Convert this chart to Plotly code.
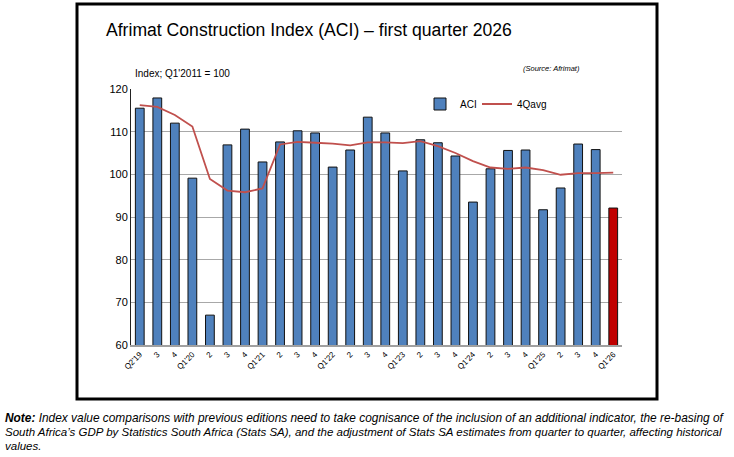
import plotly.graph_objects as go

categories = ["Q2'19", "3", "4", "Q1'20", "2", "3", "4", "Q1'21", "2", "3", "4",
              "Q1'22", "2", "3", "4", "Q1'23", "2", "3", "4", "Q1'24", "2", "3", "4",
              "Q1'25", "2", "3", "4", "Q1'26"]
aci = [115.5, 117.9, 112.0, 99.1, 67.0, 106.9, 110.6, 102.9, 107.6, 110.2, 109.7,
       101.7, 105.7, 113.4, 109.7, 100.8, 108.1, 107.4, 104.3, 93.5, 101.3, 105.6,
       105.7, 91.7, 96.8, 107.1, 105.8, 92.1]
avg4q = [116.2, 115.8, 113.9, 111.2, 98.9, 96.2, 95.8, 96.7, 107.0, 107.6, 107.4,
         107.2, 106.8, 107.5, 107.5, 107.3, 107.8, 106.6, 105.0, 103.1, 101.6, 101.3,
         101.6, 101.0, 99.9, 100.3, 100.3, 100.4]
yticks = [60, 70, 80, 90, 100, 110, 120]

x = list(range(len(categories)))
bar_colors = ["#4F81BD"] * (len(categories) - 1) + ["#C00000"]

fig = go.Figure()
fig.add_trace(go.Bar(x=x, y=aci, name="ACI", marker=dict(color=bar_colors, line=dict(color="#111111", width=1)),
                     showlegend=True, legend="legend"))
fig.add_trace(go.Scatter(x=x, y=avg4q, name="4Qavg", mode="lines",
                         line=dict(color="#C0504D", width=1.8), legend="legend2"))

W, H = 734, 457
L, R, T, B = 131, 622, 89, 345
pw, ph = R - L, B - T

def px(v):
    return (v - L) / pw

def py(v):
    return (B - v) / ph

note_family = "Liberation Sans, Arial, sans-serif"

fig.update_layout(
    width=W, height=H,
    margin=dict(l=L, r=W - R, t=T, b=H - B),
    paper_bgcolor="white", plot_bgcolor="white",
    font=dict(family="Liberation Sans, Arial, sans-serif", color="#000000"),
    bargap=0.5,
    showlegend=True,
    legend=dict(orientation="h", x=px(420), y=py(104), xanchor="left", yanchor="middle",
                bgcolor="rgba(0,0,0,0)", font=dict(size=10), itemwidth=30),
    legend2=dict(orientation="h", x=px(477), y=py(104), xanchor="left", yanchor="middle",
                 bgcolor="rgba(0,0,0,0)", font=dict(size=10), itemwidth=30),
    xaxis=dict(tickmode="array", tickvals=x, ticktext=categories, tickangle=-45,
               range=[-0.5, len(categories) - 0.5], showgrid=False,
               showline=True, linecolor="#A0A0A0", linewidth=1.5,
               tickfont=dict(size=8), ticks=""),
    yaxis=dict(range=[60, 120], tickvals=yticks, showgrid=True, gridcolor="#A8A8A8", gridwidth=1,
               showline=True, linecolor="#222222", linewidth=1, ticks="",
               tickfont=dict(size=11), zeroline=False),
    shapes=[dict(type="rect", xref="paper", yref="paper",
                 x0=px(77), x1=px(657), y0=py(399), y1=py(4),
                 line=dict(color="black", width=3), fillcolor="rgba(0,0,0,0)")],
    annotations=[
        dict(text="Afrimat Construction Index (ACI) \u2013 first quarter 2026", xref="paper", yref="paper",
             x=px(104), y=py(30), xanchor="left", yanchor="middle", showarrow=False,
             font=dict(size=17.6)),
        dict(text="Index; Q1'2011 = 100", xref="paper", yref="paper",
             x=px(133), y=py(73), xanchor="left", yanchor="middle", showarrow=False,
             font=dict(size=10)),
        dict(text="<i>(Source: Afrimat)</i>", xref="paper", yref="paper",
             x=px(521), y=py(68), xanchor="left", yanchor="middle", showarrow=False,
             font=dict(size=7.5)),
        dict(text="<b><i>Note:</i></b><i> Index value comparisons with previous editions need to take cognisance of the inclusion of an additional indicator, the re-basing of</i>",
             xref="paper", yref="paper", x=px(3), y=py(418), xanchor="left", yanchor="middle",
             showarrow=False, font=dict(size=11.9, family=note_family)),
        dict(text="<i>South Africa\u2019s GDP by Statistics South Africa (Stats SA), and the adjustment of Stats SA estimates from quarter to quarter, affecting historical</i>",
             xref="paper", yref="paper", x=px(3), y=py(432), xanchor="left", yanchor="middle",
             showarrow=False, font=dict(size=11.5, family=note_family)),
        dict(text="<i>values.</i>",
             xref="paper", yref="paper", x=px(3), y=py(446), xanchor="left", yanchor="middle",
             showarrow=False, font=dict(size=11.5, family=note_family)),
    ],
)

fig.write_html("out.html")
